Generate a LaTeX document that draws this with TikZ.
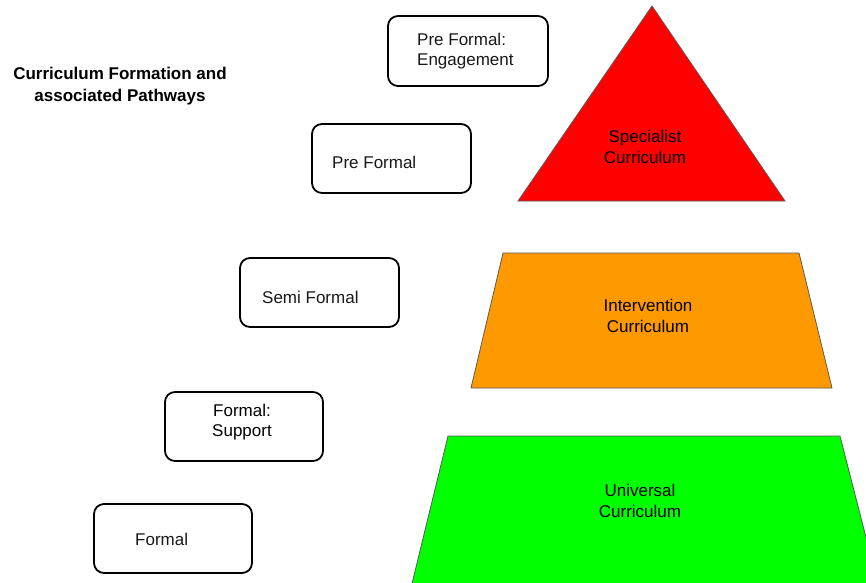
\documentclass[tikz,border=0pt]{standalone}
\usepackage{fontspec}
\setmainfont{Liberation Sans}
\begin{document}
\begin{tikzpicture}[x=1pt,y=-1pt,
  pathbox/.style={draw=black,line width=1.8pt,rounded corners=10pt,fill=white},
  shapeline/.style={draw=black!65,line width=0.8pt},
  txt/.style={font=\fontsize{17}{20.5}\selectfont,text=black!90,inner sep=0pt,align=left},
  ctxt/.style={font=\fontsize{17}{20.5}\selectfont,text=black,inner sep=0pt,align=center}]
\useasboundingbox (0,0) rectangle (866,582);
\clip (0,0) rectangle (866,582);
% title
\node[font=\bfseries\fontsize{17}{22}\selectfont,align=center,inner sep=0pt] (title) at (120,86) {Curriculum Formation and\\associated Pathways};
% pyramid shapes
\draw[shapeline,fill={rgb,255:red,255;green,0;blue,0}] (652,6) -- (785,201) -- (518,201) -- cycle;
\draw[shapeline,fill={rgb,255:red,255;green,153;blue,0}] (503,253) -- (799,253) -- (832,388) -- (471,388) -- cycle;
\draw[shapeline,fill={rgb,255:red,0;green,255;blue,0}] (448,436) -- (840,436) -- (882,600) -- (408,600) -- cycle;
\node[ctxt] (spec) at (645,147) {Specialist\\Curriculum};
\node[ctxt] (inter) at (648,316) {Intervention\\Curriculum};
\node[ctxt] (univ) at (640,501) {Universal\\Curriculum};
% pathway boxes
\draw[pathbox] (388,16) rectangle (548,86);
\node[txt,anchor=west] (engage) at (417,51) {Pre Formal:\\Engagement};
\draw[pathbox] (312,124) rectangle (471,193);
\node[txt,anchor=west] (preformal) at (332,162) {Pre Formal};
\draw[pathbox] (240,258) rectangle (399,327);
\node[txt,anchor=west] (semi) at (262,297) {Semi Formal};
\draw[pathbox] (165,392) rectangle (323,461);
\node[ctxt] (support) at (242,422) {Formal:\\Support};
\draw[pathbox] (94,504) rectangle (252,573);
\node[txt,anchor=west] (formal) at (135,539) {Formal};
\end{tikzpicture}
\end{document}
